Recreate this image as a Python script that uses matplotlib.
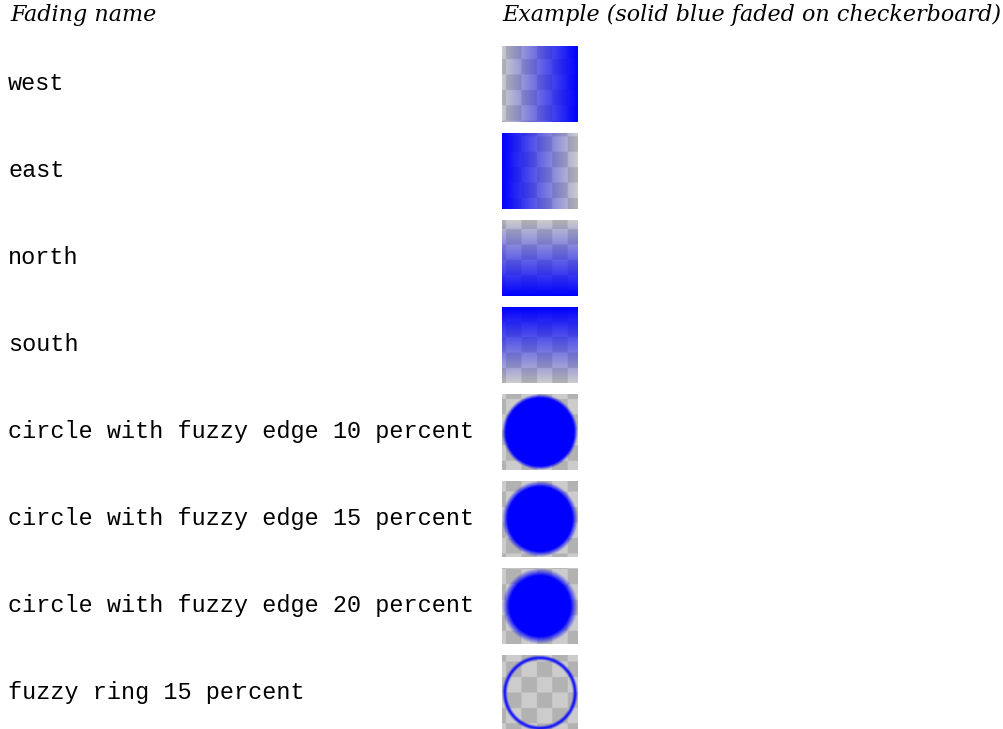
import numpy as np
import matplotlib.pyplot as plt

# --- table content ---
fading_names = [
    "west",
    "east",
    "north",
    "south",
    "circle with fuzzy edge 10 percent",
    "circle with fuzzy edge 15 percent",
    "circle with fuzzy edge 20 percent",
    "fuzzy ring 15 percent",
]
fading_kinds = ["west", "east", "north", "south", "circle", "circle", "circle", "ring"]
fuzzy_percent = [0, 0, 0, 0, 10, 15, 20, 15]
headers = ["Fading name", "Example (solid blue faded on checkerboard)"]

# --- layout (pixels) ---
W, H = 1004, 729
box_x, box_w = 502, 76
row_top0, row_step = 46, 87
cell, cx0, cy0 = 15.45, 506, 59      # global checkerboard grid
light, dark = 0.80, 0.70
ss = 4                               # supersampling for the swatches


def alpha_map(kind, pct, u, v):
    # u, v run 0..1 left->right, top->bottom
    if kind == "west":
        return u
    if kind == "east":
        return 1 - u
    if kind == "north":
        return v
    if kind == "south":
        return 1 - v
    r = np.hypot(u - 0.5, v - 0.5) / 0.5
    if kind == "circle":
        r0 = 1 - pct / 100
        return np.clip((1 - r) / (1 - r0), 0, 1)
    # ring: transparent inside, opaque band near the edge
    half = pct / 200
    peak = 1 - half
    return np.clip(1 - np.abs(r - peak) / half, 0, 1)


fig = plt.figure(figsize=(W / 100, H / 100), dpi=100)
ax = fig.add_axes([0, 0, 1, 1])
ax.set_xlim(0, W)
ax.set_ylim(H, 0)
ax.axis("off")

ax.text(10, 21, headers[0], family="DejaVu Serif", style="italic",
        fontsize=16, va="baseline", ha="left")
ax.text(502, 21, headers[1], family="DejaVu Serif", style="italic",
        fontsize=16, va="baseline", ha="left")

n = box_w * ss
t = (np.arange(n) + 0.5) / n
u, v = np.meshgrid(t, t)

for i, (name, kind, pct) in enumerate(zip(fading_names, fading_kinds, fuzzy_percent)):
    top = row_top0 + i * row_step
    ax.text(8, top + box_w / 2 + 6, name, family="Liberation Mono",
            fontsize=16.9, va="baseline", ha="left")

    gx = box_x + u * box_w
    gy = top + v * box_w
    ci = np.floor((gx - cx0) / cell).astype(int)
    cj = np.floor((gy - cy0) / cell).astype(int)
    checker = np.where((ci + cj) % 2 == 0, light, dark)

    a = alpha_map(kind, pct, u, v)
    img = np.empty((n, n, 3))
    img[..., 0] = checker * (1 - a)
    img[..., 1] = checker * (1 - a)
    img[..., 2] = checker * (1 - a) + a
    ax.imshow(img, extent=(box_x, box_x + box_w, top + box_w, top),
              origin="upper", interpolation="antialiased")

ax.set_xlim(0, W)
ax.set_ylim(H, 0)
ax.set_aspect("auto")

fig.savefig("out.png", dpi=100)
